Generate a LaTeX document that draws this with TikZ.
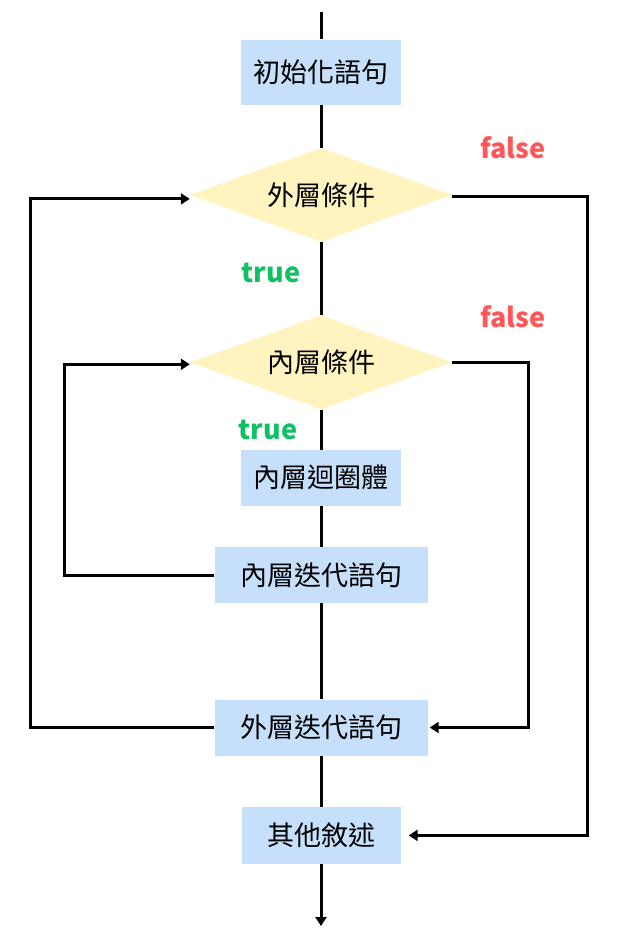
\documentclass[tikz,border=0pt]{standalone}
\usepackage{fontspec}
\setmainfont{Noto Sans CJK TC}
\usetikzlibrary{positioning, shapes.geometric, arrows.meta}
\definecolor{loopBox}{HTML}{C6E0FB}
\definecolor{loopCond}{HTML}{FFF3BF}
\definecolor{loopFalse}{HTML}{FF5757}
\definecolor{loopTrue}{HTML}{12C064}
\definecolor{loopLine}{HTML}{000000}
\tikzset{
    loopBoxBase/.style={
        rectangle,
        fill=loopBox,
        minimum height=56pt,
        inner sep=0pt,
        font=\fontsize{27}{30}\selectfont,
        align=center
    },
    loopDecision/.style={
        diamond,
        fill=loopCond,
        aspect=2.8,
        minimum width=262pt,
        minimum height=94pt,
        inner sep=0pt,
        font=\fontsize{27}{30}\selectfont
    },
    % Branch labels
    falseLabel/.style={font=\bfseries\fontsize{27}{30}\selectfont, text=loopFalse},
    trueLabel/.style={font=\bfseries\fontsize{27}{30}\selectfont, text=loopTrue},
    % Arrows
    loopArrowBase/.style={-{Triangle[length=9pt,width=11pt]}, line width=3pt, draw=loopLine},
    loopLineBase/.style={line width=3pt, draw=loopLine}
}

\begin{document}
\begin{tikzpicture}[
    x=1pt, y=-1pt,
    ln/.style={loopLineBase},
    arr/.style={loopArrowBase}
]
\useasboundingbox (0,0) rectangle (633,935);

\node[loopBoxBase, minimum width=160pt, minimum height=65pt] (init) at (321,72) {初始化語句};
\node[loopDecision, below=43pt of init] (outercond) {外層條件};
\node[loopDecision, below=73pt of outercond] (innercond) {內層條件};
\node[loopBoxBase, minimum width=160pt, below=40pt of innercond] (body) {內層迴圈體};
\node[loopBoxBase, minimum width=213pt, below=41pt of body] (inneriter) {內層迭代語句};
\node[loopBoxBase, minimum width=213pt, below=96pt of inneriter] (outeriter) {外層迭代語句};
\node[loopBoxBase, minimum width=159pt, minimum height=57pt, below=51pt of outeriter] (other) {其他敘述};

\coordinate (start) at (321,12);
\coordinate (finish) at (321,926);
\coordinate (outerback) at (30,0);
\coordinate (innerback) at (64,0);
\coordinate (innerexit) at (528,0);
\coordinate (outerexit) at (587,0);

% main flow
\draw[ln] (start) -- (init);
\draw[ln] (init) -- (outercond);
\draw[ln] (outercond) -- (innercond);
\draw[ln] (innercond) -- (body);
\draw[ln] (body) -- (inneriter);
\draw[ln] (inneriter) -- (outeriter);
\draw[ln] (outeriter) -- (other);
\draw[arr] (other) -- (finish);

% loops back
\draw[arr] (outeriter.west) -- (outeriter.west -| outerback) |- ([yshift=-4pt]outercond.west);
\draw[arr] (inneriter.west) -- (inneriter.west -| innerback) |- ([yshift=-2pt]innercond.west);

% exits
\draw[arr] (innercond.east) -- (innercond.east -| innerexit) |- ([xshift=2pt]outeriter.east);
\draw[arr] ([yshift=-2pt]outercond.east) -- ([yshift=-2pt]outercond.east -| outerexit) |- ([xshift=8pt]other.east);

\node[falseLabel] (outerfalse) at (513,148) {false};
\node[falseLabel] (innerfalse) at (513,317) {false};
\node[trueLabel] (outertrue) at (271,273) {true};
\node[trueLabel] (innertrue) at (268,430) {true};
\end{tikzpicture}
\end{document}
